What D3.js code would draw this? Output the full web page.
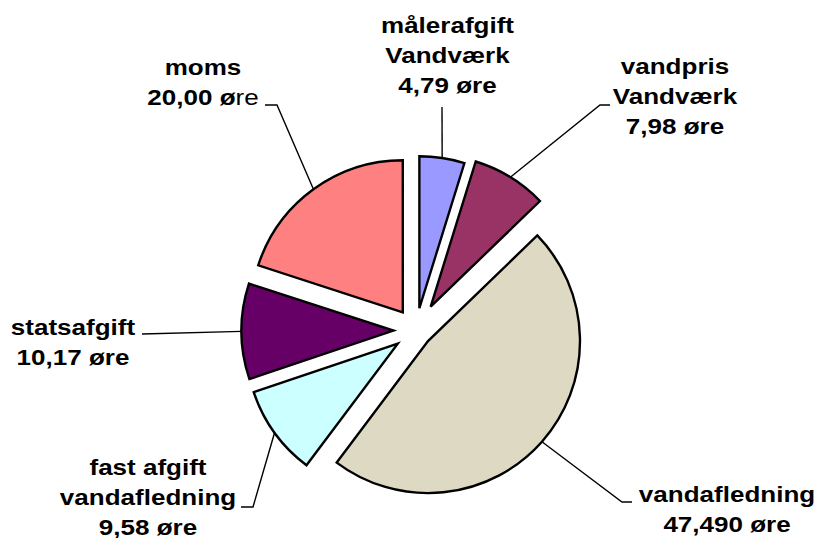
<!DOCTYPE html>
<html>
<head>
<meta charset="utf-8">
<script src="https://cdn.jsdelivr.net/npm/d3@7"></script>
<style>
  html, body { margin: 0; padding: 0; background: #fff; }
  svg { display: block; }
  text { font-family: "Liberation Sans", Arial, sans-serif; font-weight: bold; font-size: 21.5px; fill: #000; }
</style>
</head>
<body>
<svg id="chart" width="819" height="538"></svg>
<script>
// ---- data ----
const categories = [
  ["målerafgift", "Vandværk"],
  ["vandpris", "Vandværk"],
  ["vandafledning"],
  ["fast afgift", "vandafledning"],
  ["statsafgift"],
  ["moms"]
];
const values = [4.79, 7.98, 47.49, 9.58, 10.17, 20.00];
const valueLabels = ["4,79 øre", "7,98 øre", "47,490 øre", "9,58 øre", "10,17 øre", "20,00 øre"];

// ---- styling / layout ----
const colors = ["#9999FF", "#993366", "#DDD9C3", "#CCFFFF", "#660066", "#FF8080"];
const explode = [22.5, 28, 16, 22.5, 22.5, 22.5];
const lightSuffix = [0, 0, 0, 0, 0, 2];           // trailing chars of value label drawn in normal weight
const labelPos = [[447.5, 33], [675, 74], [727, 502], [148, 475], [73, 335], [203, 75]];
const leaderElbow = [[442, 107], [600, 105], [622, 502], [253, 507], [142, 334], [277, 105]];
const leaderEnd   = [[442, 107], [610, 105], [632, 502], [241, 507], [142, 334], [265, 105]];
const cx = 416, cy = 330.5, R = 152, lineH = 30, hScale = 1.21;

const svg = d3.select("#chart");
const pie = d3.pie().sort(null).value(d => d)(values);
const arc = d3.arc().innerRadius(0).outerRadius(R);

const mid = d => (d.startAngle + d.endAngle) / 2;
const offset = (d, i) => [explode[i] * Math.sin(mid(d)), -explode[i] * Math.cos(mid(d))];

// leader lines
svg.append("g").selectAll("polyline").data(pie).join("polyline")
  .attr("points", (d, i) => {
    const o = offset(d, i);
    const a = mid(d);
    const p0 = [cx + o[0] + R * Math.sin(a), cy + o[1] - R * Math.cos(a)];
    return [p0, leaderElbow[i], leaderEnd[i]].map(p => p.join(",")).join(" ");
  })
  .attr("fill", "none").attr("stroke", "#000").attr("stroke-width", 1.4);

// slices
svg.append("g").selectAll("path").data(pie).join("path")
  .attr("transform", (d, i) => { const o = offset(d, i); return `translate(${cx + o[0]},${cy + o[1]})`; })
  .attr("d", arc)
  .attr("fill", (d, i) => colors[i])
  .attr("stroke", "#000").attr("stroke-width", 2.4).attr("stroke-linejoin", "miter");

// labels
const lg = svg.append("g").selectAll("g").data(pie).join("g")
  .attr("transform", (d, i) => `translate(${labelPos[i][0]},${labelPos[i][1]}) scale(${hScale},1)`);
lg.each(function(d, i) {
  const g = d3.select(this);
  const lines = categories[i];
  lines.forEach((ln, k) => {
    g.append("text").attr("text-anchor", "middle").attr("y", k * lineH).text(ln);
  });
  const t = g.append("text").attr("text-anchor", "middle").attr("y", lines.length * lineH);
  const s = valueLabels[i], n = lightSuffix[i];
  t.append("tspan").text(s.slice(0, s.length - n));
  if (n > 0) t.append("tspan").style("font-weight", "normal").text(s.slice(s.length - n));
});
</script>
</body>
</html>
